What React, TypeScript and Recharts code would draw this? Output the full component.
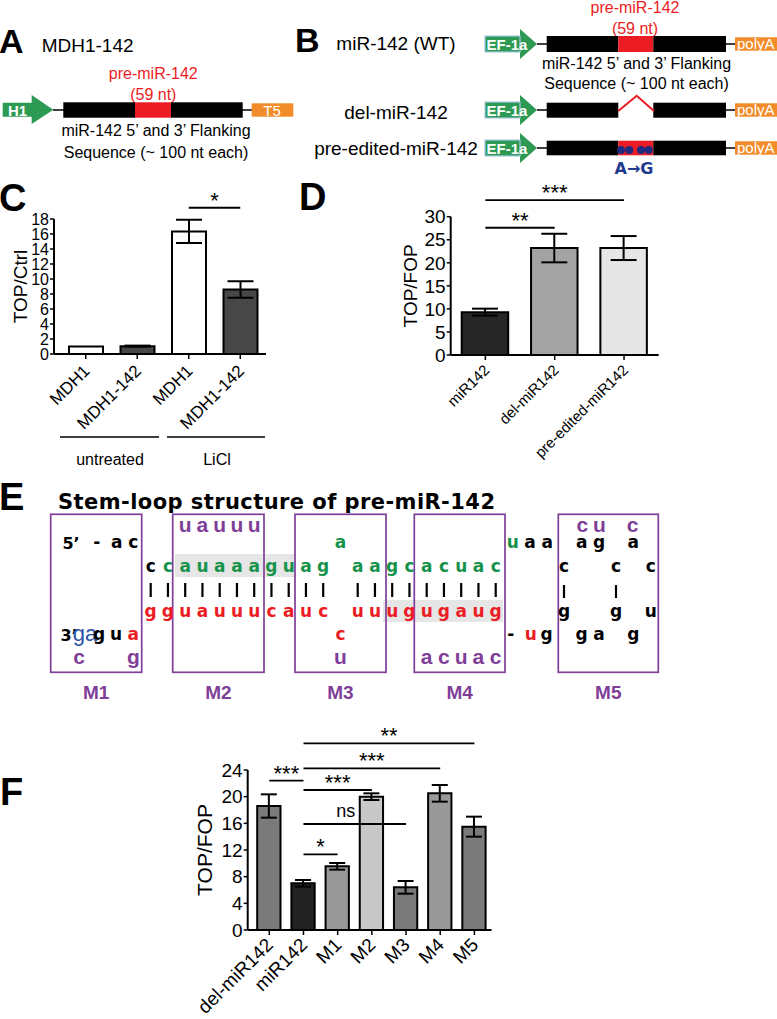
import React from 'react';
import { BarChart, Bar, XAxis, YAxis, ErrorBar, ReferenceLine, Cell } from 'recharts';

const FONT = '"Liberation Sans", Arial, Helvetica, sans-serif';
const HEAVY = '"DejaVu Sans", "Liberation Sans", sans-serif';
const GREEN = '#17924b';
const RED = '#ec1c24';
const PURPLE = '#7f3f98';
const BLUE = '#2a52a8';
const NAVY = '#1f3a8c';
const ORANGE = '#f28c2a';
const ARROW = '#2c9a52';

// ---- panel C: TOP/Ctrl
const cKeys = ['untreated-MDH1', 'untreated-MDH1-142', 'LiCl-MDH1', 'LiCl-MDH1-142'];
const cNames = ['MDH1', 'MDH1-142', 'MDH1', 'MDH1-142'];
const cValues = [1.0, 1.05, 16.35, 8.6];
const cErrors = [0, 0.07, 1.55, 1.1];
const cFills = ['#ffffff', '#474747', '#ffffff', '#474747'];
const cTicks = [0, 2, 4, 6, 8, 10, 12, 14, 16, 18];
const cSig = [{ from: 'LiCl-MDH1', to: 'LiCl-MDH1-142', y: 19.5, text: '*' }];

// ---- panel D: TOP/FOP
const dKeys = ['miR142', 'del-miR142', 'pre-edited-miR142'];
const dValues = [9.3, 23.2, 23.2];
const dErrors = [0.75, 3.1, 2.6];
const dFills = ['#262626', '#a3a3a3', '#e6e6e6'];
const dTicks = [0, 5, 10, 15, 20, 25, 30];
const dSig = [
  { from: 'miR142', to: 'del-miR142', y: 27.6, text: '**' },
  { from: 'miR142', to: 'pre-edited-miR142', y: 33.6, text: '***' },
];

// ---- panel F: TOP/FOP of mutants
const fKeys = ['del-miR142', 'miR142', 'M1', 'M2', 'M3', 'M4', 'M5'];
const fValues = [18.6, 7.0, 9.55, 20.0, 6.4, 20.5, 15.5];
const fErrors = [1.75, 0.5, 0.5, 0.5, 0.95, 1.25, 1.5];
const fFills = ['#7a7a7a', '#222222', '#999999', '#c8c8c8', '#7a7a7a', '#999999', '#7a7a7a'];
const fTicks = [0, 4, 8, 12, 16, 20, 24];
const fSig = [
  { from: 'del-miR142', to: 'miR142', y: 22.4, text: '***' },
  { from: 'miR142', to: 'M4', y: 24.25, text: '***' },
  { from: 'miR142', to: 'M5', y: 28.0, text: '**' },
  { from: 'miR142', to: 'M2', y: 21.0, text: '***' },
  { from: 'miR142', to: 'M3', y: 15.9, text: 'ns', dx: -9 },
  { from: 'miR142', to: 'M1', y: 11.35, text: '*' },
];

// ---- panel E: stem-loop sequence
const topStrand = 'ccauaaaguag aagcacuac';
const bottomStrand = 'gguauuucauc uuugugaug';
const colX = (i: number) => 150.7 + 17.25 * i;

function RotTick(props: any) {
  const { x, y, payload, fontSize, names, dx = 0, dy = 0 } = props;
  const label = names[payload.value] ?? payload.value;
  const ax = x + dx;
  const ay = y + dy;
  return (
    <text x={ax} y={ay} transform={`rotate(-45 ${ax} ${ay})`} textAnchor="end" fontSize={fontSize} fontFamily={FONT} fill="#000">
      {label}
    </text>
  );
}

function PrismBars(p: any) {
  const data = p.keys.map((k: string, i: number) => ({ key: k, value: p.values[i], err: p.errors[i] }));
  const names: Record<string, string> = {};
  p.keys.forEach((k: string, i: number) => (names[k] = p.names ? p.names[i] : k));
  const axisStyle = { stroke: '#000', strokeWidth: 2 };
  return (
    <div style={{ position: 'absolute', left: p.left, top: p.top }}>
      <BarChart width={p.width} height={p.height} data={data} margin={p.margin}>
        <XAxis
          dataKey="key"
          interval={0}
          height={30}
          padding={{ left: p.padLeft, right: 0 }}
          axisLine={axisStyle}
          tickLine={{ stroke: '#000', strokeWidth: 1.5 }}
          tickSize={5}
          tick={<RotTick fontSize={p.xFont} names={names} dx={p.tickDx} dy={p.tickDy} />}
        />
        <YAxis
          domain={[0, p.ticks[p.ticks.length - 1]]}
          ticks={p.ticks}
          interval={0}
          width={p.yWidth}
          tickSize={4}
          tickMargin={1}
          axisLine={axisStyle}
          tickLine={{ stroke: '#000', strokeWidth: 1.5 }}
          tick={{ fill: '#000', fontSize: p.tickFont, fontFamily: FONT }}
          label={{
            value: p.yLabel,
            angle: -90,
            position: 'insideLeft',
            offset: p.yLabelX,
            fill: '#000',
            fontSize: p.labelFont,
            fontFamily: FONT,
            style: { textAnchor: 'middle' },
          }}
        />
        <Bar dataKey="value" barSize={p.barSize} stroke="#000" strokeWidth={2} isAnimationActive={false}>
          {data.map((d: any, i: number) => (
            <Cell key={d.key} fill={p.fills[i]} />
          ))}
          <ErrorBar dataKey="err" width={p.capHalf} stroke="#000" strokeWidth={2} direction="y" />
        </Bar>
        {p.sig.map((s: any, i: number) => (
          <ReferenceLine
            key={i}
            segment={[{ x: s.from, y: s.y }, { x: s.to, y: s.y }]}
            ifOverflow="visible"
            stroke="#000"
            strokeWidth={1.8}
            label={{
              value: s.text,
              position: 'top',
              offset: s.text === 'ns' ? 7 : 0,
              dx: s.dx ?? 0,
              fontSize: s.text === 'ns' ? 18 : 22,
              fontFamily: FONT,
              fill: '#000',
            }}
          />
        ))}
      </BarChart>
    </div>
  );
}

function Promoter({ cy }: { cy: number }) {
  return (
    <g>
      <path d={`M485,${cy - 8} L520,${cy - 8} L520,${cy - 15} L537,${cy} L520,${cy + 15} L520,${cy + 8} L485,${cy + 8} Z`} fill={ARROW} />
      <rect x={485} y={cy - 8} width={35} height={16} fill="none" stroke="#a9c8e4" strokeWidth={1.2} />
      <text x={507} y={cy + 5.5} textAnchor="middle" fontSize={15} fontWeight="bold" fill="#fff" fontFamily={FONT}>EF-1a</text>
      <line x1={537} y1={cy} x2={547} y2={cy} stroke="#000" strokeWidth={1.5} />
      <line x1={726} y1={cy} x2={735} y2={cy} stroke="#000" strokeWidth={1.5} />
      <rect x={735} y={cy - 6.7} width={45} height={13.4} fill={ORANGE} />
      <text x={737} y={cy + 5} fontSize={15} fill="#fff" fontFamily={FONT}>polyA</text>
    </g>
  );
}

function Nt({ x, y, ch, color = '#000', purple = false }: any) {
  if (purple) {
    return (
      <text x={x} y={y + 5.5} textAnchor="middle" fontSize={21} fontWeight="bold" fill={PURPLE} fontFamily={FONT}>{ch}</text>
    );
  }
  return (
    <text x={x} y={y + 4.8} textAnchor="middle" fontSize={17} fontWeight="bold" fill={color} fontFamily={HEAVY}>{ch}</text>
  );
}

function Diagrams() {
  const r0 = 526, r1 = 543.3, r2 = 566.7, r4 = 612.3, r5 = 635, r6 = 658.5;
  const boxes = [
    [50.7, 141.7, 'M1'],
    [172.7, 264, 'M2'],
    [295, 386, 'M3'],
    [414.3, 505, 'M4'],
    [558.3, 658.3, 'M5'],
  ] as const;
  const panelLetter = (x: number, y: number, t: string, s = 38) => (
    <text x={x} y={y} fontSize={s} fontWeight="bold" fontFamily={FONT} fill="#000">{t}</text>
  );
  return (
    <svg width={777} height={1019} style={{ position: 'absolute', left: 0, top: 0 }}>
      {/* panel letters */}
      {panelLetter(-1, 53, 'A', 34)}
      {panelLetter(295, 52, 'B', 34)}
      {panelLetter(-1, 211, 'C')}
      {panelLetter(299, 210, 'D')}
      {panelLetter(-1, 510, 'E')}
      {panelLetter(0, 805, 'F')}

      {/* A */}
      <text x={41.7} y={52} fontSize={19} fontFamily={FONT}>MDH1-142</text>
      <text x={153.3} y={78.5} textAnchor="middle" fontSize={16} fill={RED} fontFamily={FONT}>pre-miR-142</text>
      <text x={153.3} y={100} textAnchor="middle" fontSize={16} fill={RED} fontFamily={FONT}>(59 nt)</text>
      <path d="M2.7,102.7 L31.7,102.7 L31.7,95 L53.3,109.7 L31.7,124 L31.7,116.7 L2.7,116.7 Z" fill={ARROW} />
      <text x={17.5} y={115.5} textAnchor="middle" fontSize={15} fontWeight="bold" fill="#fff" fontFamily={FONT}>H1</text>
      <line x1={53} y1={110} x2={64} y2={110} stroke="#000" strokeWidth={1.5} />
      <rect x={63.3} y={102.3} width={71.7} height={15.4} fill="#000" />
      <rect x={135} y={102.3} width={36} height={15.4} fill={RED} />
      <rect x={171} y={102.3} width={71.7} height={15.4} fill="#000" />
      <line x1={242} y1={110} x2={252} y2={110} stroke="#000" strokeWidth={1.5} />
      <rect x={251.7} y={103.3} width={41.6} height={13.4} fill={ORANGE} />
      <text x={272} y={115.5} textAnchor="middle" fontSize={15} fill="#fff" fontFamily={FONT}>T5</text>
      <text x={156} y={135.5} textAnchor="middle" fontSize={16} fontFamily={FONT}>miR-142 5’ and 3’ Flanking</text>
      <text x={156} y={157.5} textAnchor="middle" fontSize={16} fontFamily={FONT}>Sequence (~ 100 nt each)</text>

      {/* B */}
      <text x={635} y={13} textAnchor="middle" fontSize={16} fill={RED} fontFamily={FONT}>pre-miR-142</text>
      <text x={635} y={34} textAnchor="middle" fontSize={16} fill={RED} fontFamily={FONT}>(59 nt)</text>
      <text x={396} y={50} textAnchor="middle" fontSize={19} fontFamily={FONT}>miR-142 (WT)</text>
      <Promoter cy={44} />
      <rect x={546.7} y={36} width={71.6} height={16} fill="#000" />
      <rect x={618.3} y={36} width={35} height={16} fill={RED} />
      <rect x={653.3} y={36} width={72.7} height={16} fill="#000" />
      <text x={636.5} y={68.5} textAnchor="middle" fontSize={16} fontFamily={FONT}>miR-142 5’ and 3’ Flanking</text>
      <text x={636.5} y={89} textAnchor="middle" fontSize={16} fontFamily={FONT}>Sequence (~ 100 nt each)</text>

      <text x={396} y={118.5} textAnchor="middle" fontSize={19} fontFamily={FONT}>del-miR-142</text>
      <Promoter cy={110} />
      <rect x={546.7} y={102.7} width={71.6} height={15} fill="#000" />
      <rect x={653.3} y={102.7} width={72.7} height={15} fill="#000" />
      <polyline points="618.3,111 636.7,95.7 654,111" fill="none" stroke={RED} strokeWidth={2} />

      <text x={396} y={155} textAnchor="middle" fontSize={19} fontFamily={FONT}>pre-edited-miR-142</text>
      <Promoter cy={148} />
      <rect x={546.7} y={140.7} width={71.6} height={14.6} fill="#000" />
      <rect x={618.3} y={140.7} width={35} height={14.6} fill={RED} />
      <rect x={653.3} y={140.7} width={72.7} height={14.6} fill="#000" />
      {[621, 629.3, 641, 648.7].map((x) => (
        <circle key={x} cx={x} cy={150} r={4} fill="#1f2a80" />
      ))}
      <text x={634} y={174} textAnchor="middle" fontSize={16} fontWeight="bold" fill={NAVY} fontFamily={HEAVY}>A→G</text>

      {/* C group labels */}
      <line x1={60} y1={437} x2={159} y2={437} stroke="#000" strokeWidth={1.5} />
      <line x1={167} y1={437} x2={265} y2={437} stroke="#000" strokeWidth={1.5} />
      <text x={110} y={465} textAnchor="middle" fontSize={16} fontFamily={FONT}>untreated</text>
      <text x={217} y={465} textAnchor="middle" fontSize={16} fontFamily={FONT}>LiCl</text>

      {/* E */}
      <text x={58} y={509} fontSize={21} fontWeight="bold" fontFamily={HEAVY} textLength={437} lengthAdjust="spacing">Stem-loop structure of pre-miR-142</text>
      <rect x={175} y={554} width={120} height={23} fill="#e6e6e6" />
      <rect x={383} y={600} width={120} height={22} fill="#e6e6e6" />
      {boxes.map(([x1, x2, name]) => (
        <g key={name}>
          <rect x={x1} y={514.3} width={x2 - x1} height={158} fill="none" stroke={PURPLE} strokeWidth={1.7} />
          <text x={(x1 + x2) / 2} y={698.5} textAnchor="middle" fontSize={19} fontWeight="bold" fill={PURPLE} fontFamily={FONT}>{name}</text>
        </g>
      ))}
      {topStrand.split('').map((ch, i) =>
        ch === ' ' ? null : <Nt key={'t' + i} x={colX(i)} y={r2} ch={ch} color={i === 0 ? '#000' : GREEN} />
      )}
      {bottomStrand.split('').map((ch, i) =>
        ch === ' ' ? null : <Nt key={'b' + i} x={colX(i)} y={r4} ch={ch} color={RED} />
      )}
      {topStrand.split('').map((ch, i) =>
        ch === ' ' ? null : <line key={'p' + i} x1={colX(i)} y1={583} x2={colX(i)} y2={597} stroke="#000" strokeWidth={2.2} />
      )}
      {/* loop / bulge nucleotides */}
      {'uauuu'.split('').map((ch, i) => <Nt key={'m2' + i} x={colX(2 + i)} y={r0} ch={ch} purple />)}
      {'acuac'.split('').map((ch, i) => <Nt key={'m4' + i} x={colX(16 + i)} y={r6} ch={ch} purple />)}
      <Nt x={colX(11)} y={r1} ch="a" color={GREEN} />
      <Nt x={colX(11)} y={r5} ch="c" color={RED} />
      <Nt x={colX(11)} y={r6} ch="u" purple />
      {/* 5' / 3' ends */}
      <text x={71} y={r1 + 5.8} textAnchor="middle" fontSize={16} fontWeight="bold" fontFamily={HEAVY}>5’</text>
      <Nt x={96.7} y={r1} ch="-" />
      <Nt x={116.7} y={r1} ch="a" />
      <Nt x={133.3} y={r1} ch="c" />
      <text x={69} y={r5 + 5.8} textAnchor="middle" fontSize={16} fontWeight="bold" fontFamily={HEAVY}>3’</text>
      <text x={85} y={r5 + 6} textAnchor="middle" fontSize={22} fill={BLUE} fontFamily={FONT}>ga</text>
      <Nt x={99} y={r5} ch="g" />
      <Nt x={116} y={r5} ch="u" />
      <Nt x={133.3} y={r5} ch="a" color={RED} />
      <Nt x={79} y={r6} ch="c" purple />
      <Nt x={133.3} y={r6} ch="g" purple />
      {/* terminal loop */}
      <Nt x={512.7} y={r1} ch="u" color={GREEN} />
      <Nt x={530} y={r1} ch="a" />
      <Nt x={547.3} y={r1} ch="a" />
      <Nt x={581.7} y={r1} ch="a" />
      <Nt x={599} y={r1} ch="g" />
      <Nt x={633.3} y={r1} ch="a" />
      <Nt x={582.3} y={r0} ch="c" purple />
      <Nt x={599.3} y={r0} ch="u" purple />
      <Nt x={632.7} y={r0} ch="c" purple />
      <Nt x={564} y={r2} ch="c" />
      <Nt x={616} y={r2} ch="c" />
      <Nt x={650.7} y={r2} ch="c" />
      <line x1={564} y1={585} x2={564} y2={598} stroke="#000" strokeWidth={2.2} />
      <line x1={616} y1={585} x2={616} y2={598} stroke="#000" strokeWidth={2.2} />
      <Nt x={564} y={r4} ch="g" />
      <Nt x={616} y={r4} ch="g" />
      <Nt x={650.7} y={r4} ch="u" />
      <Nt x={510.7} y={r5} ch="-" />
      <Nt x={530.7} y={r5} ch="u" color={RED} />
      <Nt x={546.7} y={r5} ch="g" />
      <Nt x={581.7} y={r5} ch="g" />
      <Nt x={599} y={r5} ch="a" />
      <Nt x={633.3} y={r5} ch="g" />
    </svg>
  );
}

export default function App() {
  return (
    <div style={{ position: 'absolute', left: 0, top: 0, width: 777, height: 1019, background: '#fff', overflow: 'hidden', fontFamily: FONT }}>
      <Diagrams />
      <PrismBars
        left={0} top={170} width={290} height={290}
        margin={{ top: 49, right: 24, left: 0, bottom: 76 }}
        keys={cKeys} names={cNames} values={cValues} errors={cErrors} fills={cFills}
        ticks={cTicks} sig={cSig} yWidth={54} padLeft={6} barSize={34} capHalf={13}
        tickFont={16} xFont={17} yLabel="TOP/Ctrl" yLabelX={20} labelFont={19} tickDx={5} tickDy={11}
      />
      <PrismBars
        left={300} top={160} width={380} height={320}
        margin={{ top: 56.7, right: 21.3, left: 0, bottom: 95 }}
        keys={dKeys} values={dValues} errors={dErrors} fills={dFills}
        ticks={dTicks} sig={dSig} yWidth={150.7} padLeft={0} barSize={46.5} capHalf={13}
        tickFont={19} xFont={15} yLabel="TOP/FOP" yLabelX={110} labelFont={19} tickDx={5} tickDy={9}
      />
      <PrismBars
        left={180} top={700} width={330} height={319}
        margin={{ top: 70, right: 18.5, left: 0, bottom: 59 }}
        keys={fKeys} values={fValues} errors={fErrors} fills={fFills}
        ticks={fTicks} sig={fSig} yWidth={67.7} padLeft={4.5} barSize={23.3} capHalf={8}
        tickFont={19} xFont={19} yLabel="TOP/FOP" yLabelX={25} labelFont={21} tickDx={5} tickDy={9}
      />
    </div>
  );
}
